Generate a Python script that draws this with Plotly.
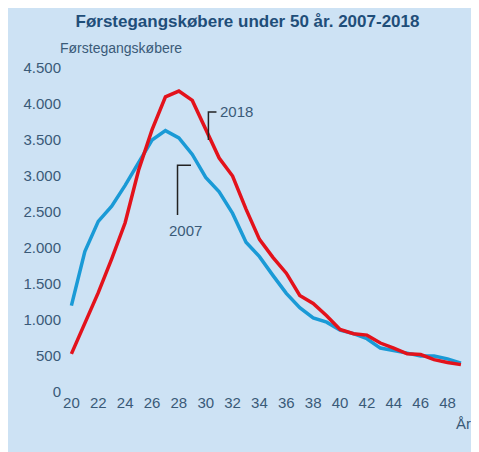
import plotly.graph_objects as go

ages = list(range(20, 50))
v2007 = [1200,1950,2370,2580,2870,3180,3500,3630,3530,3300,2980,2780,2480,2080,1880,1620,1370,1170,1030,970,860,810,740,610,580,540,500,500,460,400]
v2018 = [530,950,1380,1850,2350,3080,3640,4100,4180,4050,3650,3250,3000,2540,2120,1870,1650,1340,1230,1060,870,810,790,680,610,530,520,450,410,380]
yticks = [0,500,1000,1500,2000,2500,3000,3500,4000,4500]
ylabels = ["0","500","1.000","1.500","2.000","2.500","3.000","3.500","4.000","4.500"]

bg = "#cde2f4"
txt = "#3a5a78"
fig = go.Figure()
fig.add_trace(go.Scatter(x=ages, y=v2007, mode="lines", line=dict(color="#1a9ad6", width=3.5)))
fig.add_trace(go.Scatter(x=ages, y=v2018, mode="lines", line=dict(color="#e3121b", width=3.5)))
fig.add_trace(go.Scatter(x=[30.2,30.2,30.8], y=[3500,3890,3890], mode="lines", line=dict(color="#222", width=1.5)))
fig.add_trace(go.Scatter(x=[27.9,27.9,28.9], y=[2460,3150,3150], mode="lines", line=dict(color="#222", width=1.5)))
fig.add_annotation(x=30.9, y=3890, text="2018", showarrow=False, xanchor="left", font=dict(size=15, color=txt, family="Arial"))
fig.add_annotation(x=28.5, y=2250, text="2007", showarrow=False, font=dict(size=15, color=txt, family="Arial"))
fig.add_annotation(xref="paper", yref="paper", x=1.01, y=-0.13, text="År", showarrow=False, xanchor="right", font=dict(size=15, color=txt))
fig.add_annotation(xref="paper", yref="paper", x=-0.01, y=1.03, text="Førstegangskøbere", showarrow=False, xanchor="left", yanchor="bottom", font=dict(size=14, color=txt))
fig.update_layout(
    width=479, height=452, showlegend=False,
    paper_bgcolor=bg, plot_bgcolor=bg,
    margin=dict(l=54, r=18, t=60, b=68),
    font=dict(family="Arial, Liberation Sans", color=txt, size=15),
    title=dict(text="<b>Førstegangskøbere under 50 år. 2007-2018</b>", x=0.5, y=0.985, xanchor="center", font=dict(size=17, color="#1f4e79")),
    xaxis=dict(range=[19.3, 49.6], tickvals=list(range(20, 50, 2)), showgrid=False, zeroline=False, showline=False),
    yaxis=dict(range=[0, 4500], tickvals=yticks, ticktext=ylabels, showgrid=False, zeroline=False, ticks="", ticklen=0),
)
fig.write_html("out.html")
